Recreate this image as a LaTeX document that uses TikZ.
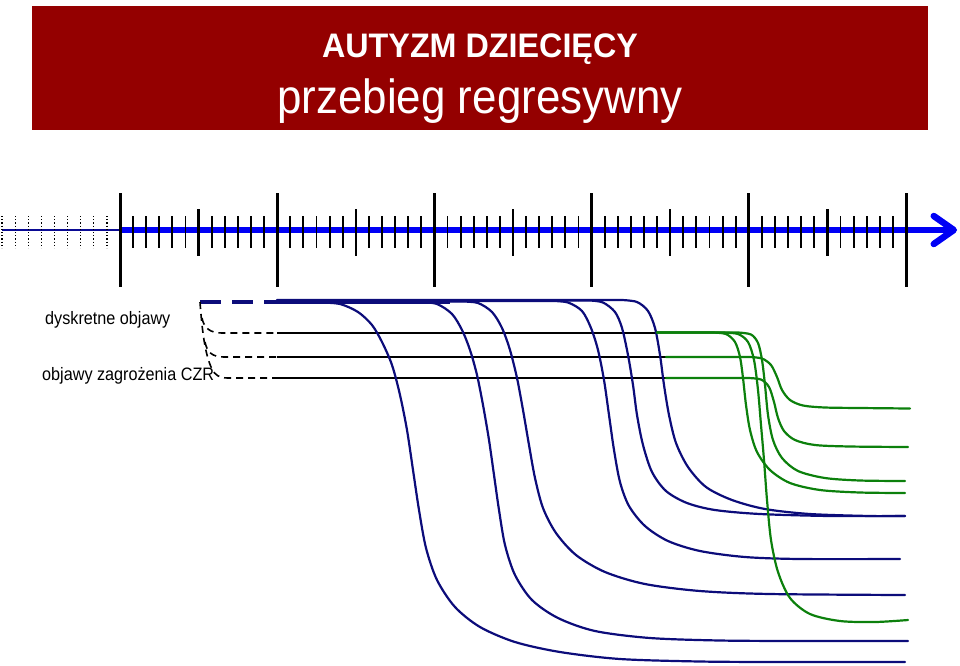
\documentclass[tikz,border=0pt]{standalone}
\usepackage{fontspec}
\setmainfont{Liberation Sans}
\usetikzlibrary{arrows.meta,positioning}

\definecolor{bannerred}{RGB}{148,0,0}
\definecolor{axisblue}{RGB}{0,0,245}
\definecolor{navycurve}{RGB}{12,12,122}
\definecolor{greencurve}{RGB}{12,128,12}

\begin{document}
\begin{tikzpicture}[x=1pt, y=-1pt,
  bigtick/.style={line width=3pt},
  midtick/.style={line width=2.4pt},
  smalltick/.style={line width=1.9pt},
  prenatal/.style={line width=1.2pt, dotted},
  regress/.style={navycurve, line width=2.2pt, line cap=round},
  later/.style={greencurve, line width=2.2pt, line cap=round},
  fork/.style={line width=1.6pt, dash pattern=on 7pt off 5pt},
  level/.style={line width=2pt},
  sidelabel/.style={font=\fontsize{18}{21}\selectfont, anchor=west, inner sep=0pt}]
  \useasboundingbox (0,0) rectangle (960,665);
  % title banner
  \node[fill=bannerred, minimum width=896pt, minimum height=124pt, inner sep=0pt] (banner) at (480,68) {};
  \node[anchor=base, text=white, font=\fontsize{34}{36}\selectfont\bfseries] (title) at (480,57) {\scalebox{0.95}[1]{AUTYZM DZIECIĘCY}};
  \node[anchor=base, text=white, font=\fontsize{48}{50}\selectfont] (subtitle) at (480,113) {\scalebox{0.915}[1]{przebieg regresywny}};
  % time axis: 9 months before birth, then 5 years
  \draw[navycurve!80!axisblue, line width=1.3pt] (2,230) -- (120,230);
  \foreach \m in {1,...,9}
    \draw[prenatal] ({120-13.1*\m},216) -- ++(0,32);
  \draw[axisblue, line width=6.5pt, -{Straight Barb[length=20pt, width=28pt, round]}] (120,230) -- (957,230);
  \foreach \k in {0,...,5}
    \draw[bigtick] ({120+157.2*\k},193) -- ++(0,94);
  \foreach \k in {0,...,4} {
    \draw[midtick] ({198.6+157.2*\k},209) -- ++(0,47);
    \foreach \m in {1,2,3,4,5,7,8,9,10,11}
      \draw[smalltick] ({120+157.2*\k+13.1*\m},216) -- ++(0,32);
  }
  % labels on the left
  \node[sidelabel] (discrete) at (45,320) {\scalebox{0.9}[1]{dyskretne objawy}};
  \node[sidelabel] (warning) at (42,376) {\scalebox{0.9}[1]{objawy zagrożenia CZR}};
  % dashed fork
  \coordinate (fork) at (200,302);
  \coordinate (onset) at (277,302);
  \draw[navycurve, line width=3.6pt, dash pattern=on 21pt off 11pt] (fork) -- (onset);
  \draw[fork] (fork) .. controls (202,330) and (205,355) .. (212,369) .. controls (215,375) and (219,378) .. (228,378) -- (277,378);
  \draw[fork] (202,318) .. controls (204,328) and (210,333) .. (222,333) -- (277,333);
  \draw[fork] (205,342) .. controls (207,352) and (212,357) .. (224,357) -- (277,357);
  % black levels
  \draw[level] (277,333) -- (657,333);
  \draw[level] (277,357) -- (666,357);
  \draw[level] (277,378) -- (666,378);
  % regression curves
  \draw[navycurve, line width=4.5pt] (onset) -- (450,302);
  \draw[regress] (277,302.5) -- plot[smooth, tension=0.5] coordinates {(320,302.5) (340,304) (358,312) (372,325) (382,342) (392,365) (400,395) (407,430) (413,470) (419,510) (426,548) (437,580) (455,607) (480,627) (515,642) (560,652) (620,659) (700,661.5) (780,662) (905,662)};
  \draw[regress] (277,302) -- plot[smooth, tension=0.5] coordinates {(420,302) (437,304) (452,314) (462,330) (470,350) (477,375) (483,405) (489,440) (494,475) (499,510) (505,545) (515,575) (532,600) (558,618) (595,631) (650,638) (720,640.5) (800,641) (908,641)};
  \draw[regress] (277,301.5) -- plot[smooth, tension=0.5] coordinates {(462,301.5) (478,303) (492,312) (502,328) (510,350) (517,378) (523,410) (529,445) (535,478) (543,508) (556,533) (576,555) (605,572) (645,584) (700,591) (770,594) (905,595)};
  \draw[regress] (277,301) -- plot[smooth, tension=0.5] coordinates {(553,301) (568,302.5) (582,311) (591,328) (598,350) (604,380) (609,415) (614,450) (620,482) (629,506) (645,526) (668,541) (700,551) (745,557) (800,559) (900,559)};
  \draw[regress] (277,300.5) -- plot[smooth, tension=0.5] coordinates {(590,300.5) (603,302.5) (615,312) (622,328) (628,355) (633,385) (637,415) (643,445) (652,472) (666,491) (687,503) (715,510) (760,514) (830,516) (905,516)};
  \draw[regress] (277,300) -- plot[smooth, tension=0.5] coordinates {(622,300) (637,302) (648,311) (655,328) (660,355) (664,385) (669,415) (676,443) (688,467) (706,487) (732,500) (765,509) (810,514) (870,516) (905,516)};
  % later regression (green)
  \draw[later] (666,357) -- plot[smooth, tension=0.5] coordinates {(750,357) (762,358.5) (771,365) (777,377) (782,390) (790,400) (803,405.5) (825,407.5) (860,408) (910,408.5)};
  \draw[later] (666,378) -- plot[smooth, tension=0.5] coordinates {(748,378) (761,379.5) (769,387) (774,402) (778,418) (784,431) (795,440) (815,445) (850,446.5) (908,447)};
  \draw[later] (657,332.5) -- plot[smooth, tension=0.5] coordinates {(712,332.5) (726,334) (735,342) (740,357) (743,378) (746,405) (750,430) (757,452) (770,470) (790,483) (820,490) (860,492.5) (905,493)};
  \draw[later] (657,332.5) -- plot[smooth, tension=0.5] coordinates {(738,332.5) (751,334.5) (758,343) (762,360) (765,385) (768,415) (773,440) (782,458) (798,471) (825,478) (860,480.5) (905,481)};
  \draw[later] (657,332.5) -- plot[smooth, tension=0.5] coordinates {(722,332.5) (738,334) (748,342) (754,360) (758,390) (761,425) (764,460) (767,500) (771,540) (778,572) (790,598) (810,614) (840,621) (875,622) (908,620)};
\end{tikzpicture}
\end{document}
